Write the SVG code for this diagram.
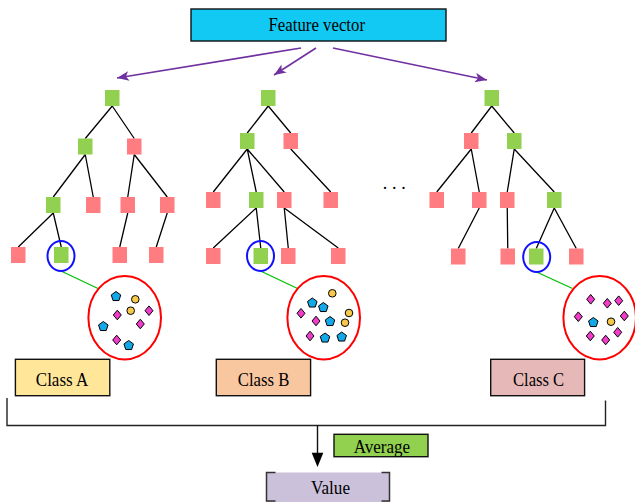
<svg xmlns="http://www.w3.org/2000/svg" xmlns:xlink="http://www.w3.org/1999/xlink" width="635" height="502" viewBox="0 0 635 502">
  <style>
    .lbl { font-family: "Liberation Serif", "Times New Roman", serif; fill: #000; }
    .box { stroke: #111; stroke-width: 1.4; }
    .edge { stroke: #000; stroke-width: 1.3; fill: none; }
    .ok { fill: #92D050; }
    .no { fill: #FF7C80; }
    .pick { fill: none; stroke: #1010FF; stroke-width: 2; }
    .zoomline { stroke: #00C000; stroke-width: 1.3; }
    .bag { fill: none; stroke: #FF0000; stroke-width: 2; }
    .feed { stroke: #7030A0; stroke-width: 1.6; fill: none; marker-end: url(#ph); }
  </style>
  <defs>
    <marker id="ph" viewBox="0 0 10 8" refX="10" refY="4" markerWidth="7.5" markerHeight="6" orient="auto" markerUnits="strokeWidth">
      <path d="M0,0 L10,4 L0,8 L2.5,4 z" fill="#7030A0"/>
    </marker>
    <rect id="sq" width="14.5" height="16"/>
    <path id="pent" d="M0,-5 L4.76,-1.55 L2.94,4.05 L-2.94,4.05 L-4.76,-1.55 Z" fill="#13A8E8" stroke="#000" stroke-width="1"/>
    <path id="dia" d="M0,-4.8 L4,0 L0,4.8 L-4,0 Z" fill="#F03CC8" stroke="#000" stroke-width="1"/>
    <circle id="dot" r="3.8" fill="#F6C94A" stroke="#000" stroke-width="1"/>
  </defs>

  <rect width="635" height="502" fill="#fff"/>

  <!-- input -->
  <g id="feature-vector">
    <rect class="box" x="191" y="9" width="255" height="32" fill="#11C9F3"/>
    <text class="lbl" x="268.5" y="30.7" font-size="18.5" textLength="96.5" lengthAdjust="spacingAndGlyphs">Feature vector</text>
  </g>

  <!-- connectors -->
  <g id="connectors">
    <line class="feed" x1="301" y1="48" x2="117" y2="78"/>
    <line class="feed" x1="316" y1="48" x2="274" y2="75"/>
    <line class="feed" x1="333" y1="48" x2="487" y2="80"/>

    <!-- tree A -->
    <path class="edge" d="M112.25,106 L85.25,138.5 M112.25,106 L134.25,138.5
      M85.25,154.5 L53.25,197 M85.25,154.5 L93.25,197
      M134.25,154.5 L127.75,197 M134.25,154.5 L167.25,197
      M53.25,213 L18.25,247 M53.25,213 L61.25,247
      M127.75,213 L119.75,247 M167.25,213 L156.25,247"/>
    <!-- tree B -->
    <path class="edge" d="M268.25,106 L247.25,133 M268.25,106 L290.75,133
      M247.25,149 L213.25,192 M247.25,149 L256.25,192 M247.25,149 L284.25,192
      M290.75,149 L330.75,192
      M256.25,208 L213.25,248 M256.25,208 L260.75,248
      M284.25,208 L288.25,248 M284.25,208 L338.25,248"/>
    <!-- tree C -->
    <path class="edge" d="M491.75,106 L471.25,133 M491.75,106 L514.25,133
      M471.25,149 L436.75,192 M471.25,149 L479.25,192
      M514.25,149 L507.25,192 M514.25,149 L554.25,192
      M479.25,208 L458.25,248.5
      M507.25,208 L507.75,248.5
      M554.25,208 L536.25,248.5 M554.25,208 L576.25,248.5"/>

    <line class="zoomline" x1="61" y1="271" x2="98" y2="288.5"/>
    <line class="zoomline" x1="260.5" y1="271" x2="297.5" y2="288.5"/>
    <line class="zoomline" x1="536.5" y1="272" x2="572.5" y2="288.5"/>

    <polyline points="7,398 7,425.5 605.5,425.5 605.5,400.5" fill="none" stroke="#222" stroke-width="1.4"/>
    <line x1="317.5" y1="425.5" x2="317.5" y2="455" stroke="#111" stroke-width="1.4"/>
    <polygon points="311.7,452.7 323.3,452.7 317.5,467" fill="#000"/>
  </g>

  <!-- tree A -->
  <g id="tree-a">
    <use href="#sq" class="ok" x="105" y="90"/>
    <use href="#sq" class="ok" x="78" y="138.5"/>
    <use href="#sq" class="no" x="127" y="138.5"/>
    <use href="#sq" class="ok" x="46" y="197"/>
    <use href="#sq" class="no" x="86" y="197"/>
    <use href="#sq" class="no" x="120.5" y="197"/>
    <use href="#sq" class="no" x="160" y="197"/>
    <use href="#sq" class="no" x="11" y="247"/>
    <use href="#sq" class="ok" x="54" y="247"/>
    <use href="#sq" class="no" x="112.5" y="247"/>
    <use href="#sq" class="no" x="149" y="247"/>
    <ellipse class="pick" cx="61" cy="256" rx="13.5" ry="15"/>
  </g>

  <!-- tree B -->
  <g id="tree-b">
    <use href="#sq" class="ok" x="261" y="90"/>
    <use href="#sq" class="ok" x="240" y="133"/>
    <use href="#sq" class="no" x="283.5" y="133"/>
    <use href="#sq" class="no" x="206" y="192"/>
    <use href="#sq" class="ok" x="249" y="192"/>
    <use href="#sq" class="no" x="277" y="192"/>
    <use href="#sq" class="no" x="323.5" y="192"/>
    <use href="#sq" class="no" x="206" y="248"/>
    <use href="#sq" class="ok" x="253.5" y="248"/>
    <use href="#sq" class="no" x="281" y="248"/>
    <use href="#sq" class="no" x="331" y="248"/>
    <ellipse class="pick" cx="260.5" cy="256" rx="13.5" ry="15"/>
  </g>

  <g id="ellipsis">
    <text class="lbl" x="382.7" y="189" font-size="18" letter-spacing="4.8">...</text>
  </g>

  <!-- tree C -->
  <g id="tree-c">
    <use href="#sq" class="ok" x="484.5" y="90"/>
    <use href="#sq" class="no" x="464" y="133"/>
    <use href="#sq" class="ok" x="507" y="133"/>
    <use href="#sq" class="no" x="429.5" y="192"/>
    <use href="#sq" class="no" x="472" y="192"/>
    <use href="#sq" class="no" x="500" y="192"/>
    <use href="#sq" class="ok" x="547" y="192"/>
    <use href="#sq" class="no" x="451" y="248.5"/>
    <use href="#sq" class="no" x="500.5" y="248.5"/>
    <use href="#sq" class="ok" x="529" y="248.5"/>
    <use href="#sq" class="no" x="569" y="248.5"/>
    <ellipse class="pick" cx="536.7" cy="257" rx="13.5" ry="15"/>
  </g>

  <!-- leaf samples -->
  <g id="leaf-a">
    <ellipse class="bag" cx="124.7" cy="317.7" rx="36.3" ry="41.7"/>
    <use href="#pent" x="116" y="296.5"/>
    <use href="#dot" x="135.3" y="299.3"/>
    <use href="#dot" x="130.7" y="310.7"/>
    <use href="#dia" x="149" y="310.7"/>
    <use href="#dia" x="117.3" y="315"/>
    <use href="#pent" x="103.3" y="326.5"/>
    <use href="#dia" x="140.3" y="324"/>
    <use href="#dia" x="116.7" y="340"/>
    <use href="#pent" x="128.7" y="345.5"/>
  </g>

  <g id="leaf-b">
    <ellipse class="bag" cx="323.7" cy="317.7" rx="36.3" ry="41.7"/>
    <use href="#dot" x="332.3" y="293.3"/>
    <use href="#pent" x="312.3" y="303"/>
    <use href="#pent" x="323.3" y="307.5"/>
    <use href="#dot" x="349" y="313"/>
    <use href="#dia" x="301" y="313.3"/>
    <use href="#dia" x="316" y="321"/>
    <use href="#pent" x="330" y="321.5"/>
    <use href="#dot" x="345" y="322.7"/>
    <use href="#dia" x="310" y="336"/>
    <use href="#pent" x="325" y="338"/>
    <use href="#pent" x="341.7" y="337"/>
  </g>

  <g id="leaf-c">
    <ellipse class="bag" cx="599.7" cy="317.7" rx="36.3" ry="41.7"/>
    <use href="#dia" x="590.7" y="299.3"/>
    <use href="#dia" x="607.3" y="303.3"/>
    <use href="#dia" x="618.7" y="300.7"/>
    <use href="#dia" x="578.3" y="316.7"/>
    <use href="#dia" x="624.3" y="316"/>
    <use href="#pent" x="593.3" y="322.5"/>
    <use href="#dot" x="611" y="321.7"/>
    <use href="#dia" x="590.3" y="336"/>
    <use href="#dia" x="605.7" y="340"/>
    <use href="#dia" x="617.7" y="332.3"/>
  </g>

  <!-- class results -->
  <g id="class-a">
    <rect class="box" x="15.4" y="359.3" width="94.4" height="36.4" fill="#FFE699"/>
    <text class="lbl" x="35.8" y="385.5" font-size="19" textLength="52.4" lengthAdjust="spacingAndGlyphs">Class A</text>
  </g>
  <g id="class-b">
    <rect class="box" x="216.3" y="359.3" width="94.3" height="36.4" fill="#F8C69F"/>
    <text class="lbl" x="237.8" y="385.5" font-size="19" textLength="51.6" lengthAdjust="spacingAndGlyphs">Class B</text>
  </g>
  <g id="class-c">
    <rect class="box" x="490.7" y="359.3" width="93.9" height="36.4" fill="#E6B9B8"/>
    <text class="lbl" x="513" y="385.5" font-size="19" textLength="51.2" lengthAdjust="spacingAndGlyphs">Class C</text>
  </g>

  <g id="average">
    <rect class="box" x="334" y="434.3" width="94" height="22.4" fill="#92D050"/>
    <text class="lbl" x="353.7" y="452.5" font-size="18" textLength="56.5" lengthAdjust="spacingAndGlyphs">Average</text>
  </g>

  <g id="value">
    <rect x="266.5" y="472.5" width="123" height="30" fill="#CCC1DA"/>
    <path d="M275.5,472.5 H266.5 V501 H275.5 M381.5,472.5 H389.5 V501 H381.5" fill="none" stroke="#333" stroke-width="1.5"/>
    <text class="lbl" x="311" y="493.5" font-size="19.5" textLength="39" lengthAdjust="spacingAndGlyphs">Value</text>
  </g>
</svg>
